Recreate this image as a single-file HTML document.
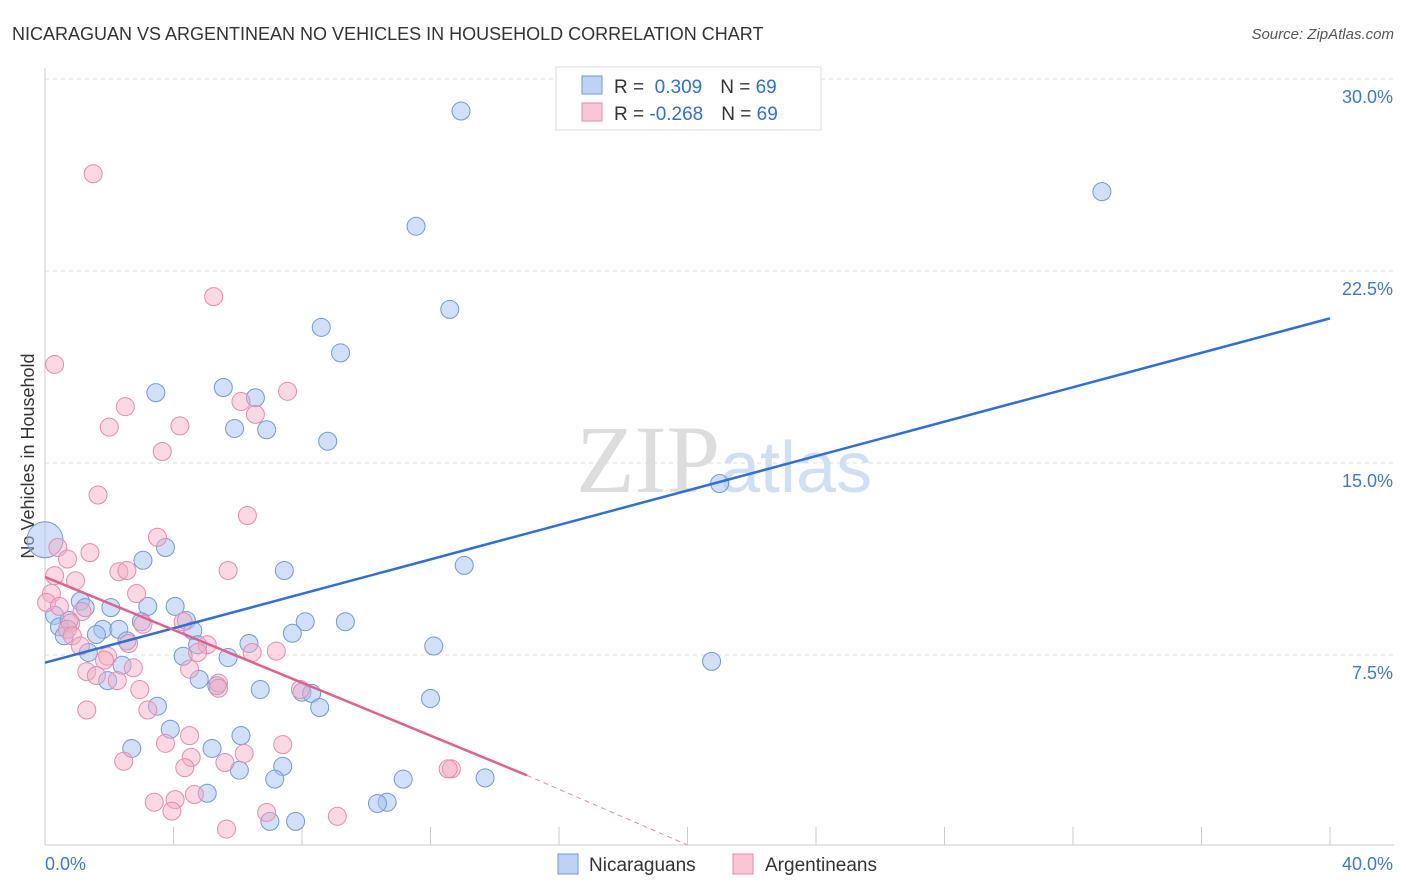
<!DOCTYPE html>
<html><head><meta charset="utf-8"><style>
body{margin:0;background:#fff;font-family:"Liberation Sans",sans-serif}
svg{display:block}
</style></head><body>
<svg width="1406" height="892" xmlns="http://www.w3.org/2000/svg">
<text x="12" y="40" font-size="18" fill="#333">NICARAGUAN VS ARGENTINEAN NO VEHICLES IN HOUSEHOLD CORRELATION CHART</text>
<text x="1394" y="39" font-size="15" fill="#555" text-anchor="end" font-style="italic">Source: ZipAtlas.com</text>
<text x="720" y="492" font-size="96" fill="#ddd" text-anchor="end" font-family="Liberation Serif">ZIP</text>
<text x="720" y="492" font-size="72" fill="#cfe0f5">atlas</text>
<g id="grid"></g>
<g id="axes"></g>
<text x="34" y="456" font-size="18" fill="#333" transform="rotate(-90 34 456)" text-anchor="middle">No Vehicles in Household</text>
<g id="marks"></g>
<g>
<rect x="556" y="67" width="265" height="63" fill="#fff" stroke="#ddd"/>
<rect x="582" y="76" width="20" height="18" fill="#bcd3f5" stroke="#6f9ad8"/>
<rect x="582" y="103" width="20" height="18" fill="#fac5d5" stroke="#e88aaa"/>
<text x="614" y="93" font-size="19" fill="#333">R = <tspan fill="#2f6fd6">&#160;0.309</tspan><tspan dx="18">N = </tspan><tspan fill="#2f6fd6">69</tspan></text>
<text x="614" y="120" font-size="19" fill="#333">R = <tspan fill="#2f6fd6">-0.268</tspan><tspan dx="18">N = </tspan><tspan fill="#2f6fd6">69</tspan></text>
</g>
<g>
<rect x="558" y="854" width="20" height="20" fill="#bcd3f5" stroke="#6f9ad8"/>
<text x="589" y="871" font-size="19" fill="#333">Nicaraguans</text>
<rect x="733" y="854" width="20" height="20" fill="#fac5d5" stroke="#e88aaa"/>
<text x="765" y="871" font-size="19" fill="#333">Argentineans</text>
</g>
</svg>
<script>
const blueX=[12.95,32.9,11.55,12.6,8.6,9.2,3.45,5.55,6.55,5.9,6.9,8.8,21.0,0.95,3.75,3.05,7.45,13.05,1.1,2.05,3.2,4.05,0.3,1.25,4.4,3.0,8.1,9.35,0.45,0.75,1.8,2.3,4.6,1.6,0.6,2.55,7.7,6.35,4.75,12.1,1.35,4.3,5.7,2.4,20.75,1.95,4.8,5.35,6.7,8.0,8.3,12.0,3.5,8.55,3.9,6.1,2.7,5.2,7.4,6.05,7.15,11.15,13.7,5.05,10.65,10.35,7.0,7.8];
const blueY=[28.75,25.6,24.25,21.0,20.3,19.3,17.75,17.95,17.55,16.35,16.3,15.85,14.2,11.7,11.7,11.2,10.8,11.0,9.6,9.35,9.4,9.4,9.05,9.35,8.85,8.8,8.8,8.8,8.6,8.85,8.5,8.5,8.45,8.3,8.25,8.05,8.35,7.95,7.9,7.85,7.6,7.45,7.4,7.1,7.25,6.5,6.55,6.3,6.15,6.05,6.0,5.8,5.5,5.45,4.6,4.35,3.85,3.85,3.15,3.0,2.65,2.65,2.7,2.1,1.75,1.7,1.0,1.0];
const pinkX=[1.5,5.25,0.3,7.55,6.1,2.5,6.55,2.0,4.2,3.65,1.65,6.3,3.5,0.4,1.4,0.7,5.7,2.3,2.55,0.3,0.95,2.85,0.2,0.05,0.45,1.15,0.8,3.05,4.3,0.7,0.85,2.6,1.1,5.05,4.75,6.45,7.2,1.95,1.85,2.75,4.5,1.3,1.6,2.25,5.4,5.4,2.95,7.95,3.2,1.3,4.5,3.75,7.4,6.2,4.55,2.45,5.6,4.35,12.65,12.55,4.65,3.4,4.05,3.95,6.9,9.1,5.65];
const pinkY=[26.3,21.5,18.85,17.8,17.4,17.2,16.9,16.4,16.45,15.45,13.75,12.95,12.1,11.7,11.5,11.25,10.8,10.75,10.8,10.6,10.4,9.9,9.9,9.55,9.4,9.2,8.75,8.7,8.8,8.5,8.25,7.95,7.85,7.9,7.6,7.6,7.65,7.45,7.3,7.0,6.95,6.85,6.7,6.5,6.4,6.2,6.15,6.15,5.35,5.35,4.35,4.05,4.0,3.65,3.5,3.35,3.3,3.1,3.05,3.05,2.05,1.75,1.85,1.4,1.35,1.2,0.7];
const yTicks=[7.5,15,22.5,30];
const yTickLabels=["7.5%","15.0%","22.5%","30.0%"];
const xTicks=[0,4,8,12,16,20,24,28,32,36,40];
const blueTrend=[[0,7.2],[40,20.65]];
const pinkTrend=[[0,10.55],[15,2.8]];
const pinkTrendExt=[[15,2.8],[20,0.08]];
const NS="http://www.w3.org/2000/svg";
const sx=v=>45+v*32.125, sy=v=>847-v*25.6;
function mk(parent,tag,attrs){const e=document.createElementNS(NS,tag);for(const k in attrs)e.setAttribute(k,attrs[k]);document.getElementById(parent).appendChild(e);return e;}
yTicks.forEach((t,i)=>{
 const g=mk('grid','line',{x1:45,x2:1394,y1:sy(t),y2:sy(t),stroke:'#ddd','stroke-dasharray':'4,4'});
 
 
 const l=mk('axes','text',{x:1393,y:sy(t)+24,'font-size':18,fill:'#3b78d8','text-anchor':'end'});
 l.textContent=yTickLabels[i];
 
 
});
const ax=mk('axes','line',{x1:45,x2:1394,y1:845,y2:845,stroke:'#ccc'});


const ay=mk('axes','line',{x1:45,x2:45,y1:68,y2:845,stroke:'#ccc'});


xTicks.forEach(t=>{const e=mk('axes','line',{x1:sx(t),x2:sx(t),y1:827,y2:845,stroke:'#ccc'});
 
 });
const x0=mk('axes','text',{x:45,y:870,'font-size':18,fill:'#3b78d8'});x0.textContent='0.0%';


const x1=mk('axes','text',{x:1393,y:870,'font-size':18,fill:'#3b78d8','text-anchor':'end'});x1.textContent='40.0%';


blueX.forEach((x,i)=>{const c=mk('marks','circle',{cx:sx(x),cy:sy(blueY[i]),r:i===13?0:9,fill:'rgba(164,194,240,0.5)',stroke:'#6f9ad8','stroke-width':1});
 
 });
const big=mk('marks','circle',{cx:sx(0),cy:sy(12.0),r:18,fill:'rgba(164,194,240,0.5)',stroke:'#6f9ad8'});


pinkX.forEach((x,i)=>{const c=mk('marks','circle',{cx:sx(x),cy:sy(pinkY[i]),r:9,fill:'rgba(245,170,195,0.45)',stroke:'#e88aaa','stroke-width':1});
 
 });
const bl=mk('marks','line',{x1:sx(blueTrend[0][0]),y1:sy(blueTrend[0][1]),x2:sx(blueTrend[1][0]),y2:sy(blueTrend[1][1]),stroke:'#2f6fd6','stroke-width':2.5});


const pl=mk('marks','line',{x1:sx(pinkTrend[0][0]),y1:sy(pinkTrend[0][1]),x2:sx(pinkTrend[1][0]),y2:sy(pinkTrend[1][1]),stroke:'#e0608e','stroke-width':2.5});


const pe=mk('marks','line',{x1:sx(pinkTrendExt[0][0]),y1:sy(pinkTrendExt[0][1]),x2:sx(pinkTrendExt[1][0]),y2:sy(pinkTrendExt[1][1]),stroke:'#e88aaa','stroke-width':1,'stroke-dasharray':'5,4'});


</script>
</body></html>
